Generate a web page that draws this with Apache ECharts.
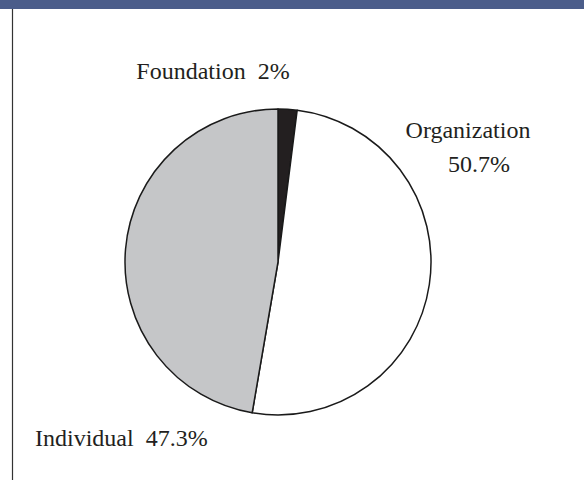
<!DOCTYPE html>
<html>
<head>
<meta charset="utf-8">
<script src="https://cdn.jsdelivr.net/npm/echarts@6/dist/echarts.min.js"></script>
<style>
  html, body { margin: 0; padding: 0; background: #fff; }
  #chart { width: 584px; height: 480px; }
</style>
</head>
<body>
<div id="chart"></div>
<script>
// source shares
const names = ["Foundation", "Organization", "Individual"];
const shares = [2, 50.7, 47.3];

// look
const sliceColors = ["#231f20", "#ffffff", "#c5c6c8"];
const labelPos = [
  { x: 213, y: 71, align: "center" },
  { x: 468, y: 147, align: "center" },
  { x: 35, y: 438, align: "left" },
];

const txt = { fontFamily: "Liberation Serif", fontSize: 24, color: "#231f20", lineHeight: 34 };

const chart = echarts.init(document.getElementById("chart"), null, { renderer: "svg" });

chart.setOption({
  animation: false,
  graphic: [
    { type: "rect", shape: { x: 0, y: 0, width: 584, height: 9 }, style: { fill: "#4b5d8a" } },
    { type: "line", shape: { x1: 12.5, y1: 9, x2: 12.5, y2: 480 }, style: { stroke: "#333", lineWidth: 1.2 } },
  ],
  series: [
    {
      type: "pie",
      center: [278, 262],
      radius: 153,
      startAngle: 90,
      clockwise: true,
      silent: true,
      data: names.map((n, i) => ({
        name: n,
        value: shares[i],
        itemStyle: { color: sliceColors[i] },
      })),
      itemStyle: { borderColor: "#1a1a1a", borderWidth: 1.5 },
      label: {
        show: true,
        position: "outside",
        overflow: "none",
        ...txt,
        formatter: (p) =>
          p.name === "Organization"
            ? "{t|" + p.name + "}\n{v|" + p.value + "%}"
            : "{t|" + p.name + "  " + p.value + "%}",
        rich: {
          t: { ...txt },
          v: { ...txt, padding: [0, 0, 0, 22] },
        },
      },
      labelLine: { show: false },
      labelLayout: (p) => ({
        x: labelPos[p.dataIndex].x,
        y: labelPos[p.dataIndex].y,
        align: labelPos[p.dataIndex].align,
        verticalAlign: "middle",
        hideOverlap: false,
      }),
    },
  ],
});
</script>
</body>
</html>
